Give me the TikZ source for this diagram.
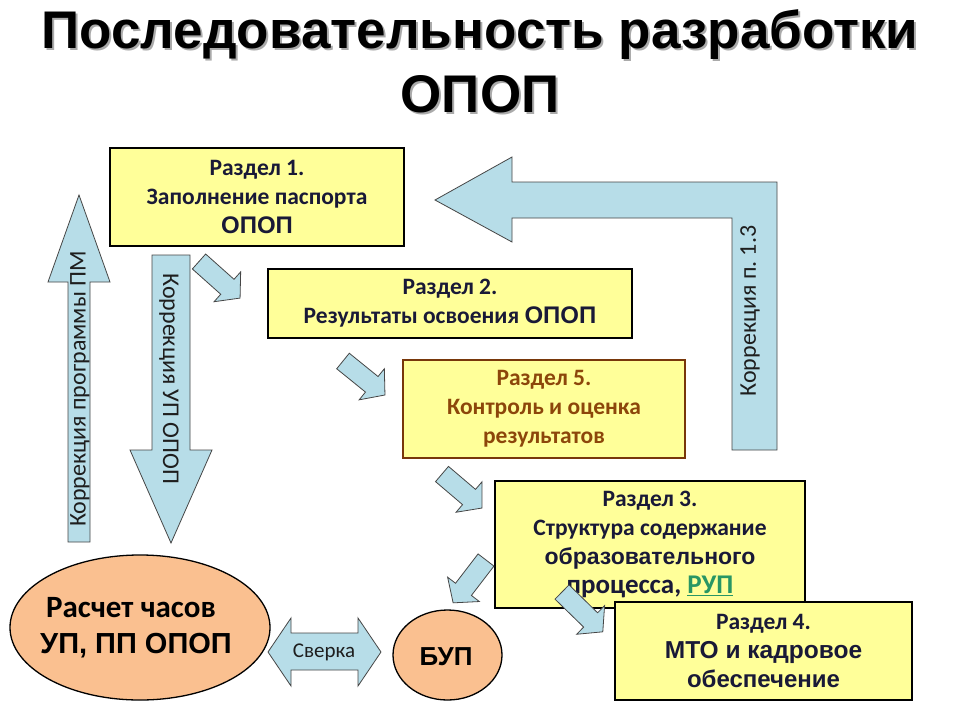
\documentclass[tikz,border=0pt]{standalone}
\usepackage{fontspec}
\setmainfont{Carlito}
\newfontfamily\arialf{Liberation Sans}
\usetikzlibrary{shapes.geometric}
\frenchspacing
\definecolor{boxfill}{RGB}{255,255,153}
\definecolor{arrfill}{RGB}{183,221,232}
\definecolor{arrline}{RGB}{70,70,70}
\definecolor{peach}{RGB}{250,192,144}
\definecolor{navy}{RGB}{25,25,55}
\definecolor{brownb}{RGB}{120,55,10}
\definecolor{browntxt}{RGB}{140,70,10}
\definecolor{rupgreen}{RGB}{40,150,100}
\definecolor{shadowgray}{RGB}{170,170,170}
\definecolor{rottxt}{RGB}{30,30,30}
\newcommand{\blockarr}[4]{%
  \begin{scope}[shift={#2}, rotate=#3, x=1pt, y=1pt]
    \draw[blk] (0,-10) -- ({#4-17},-10) -- ({#4-17},-20) -- (#4,0) -- ({#4-17},20) -- ({#4-17},10) -- (0,10) -- cycle;
    \coordinate (#1) at (#4,0);
  \end{scope}}
\begin{document}
\begin{tikzpicture}[x=1pt,y=-1pt,
  sect/.style={draw=black, line width=2.2pt, fill=boxfill, align=center, text=navy,
    font=\bfseries\fontsize{23.5}{29}\selectfont, inner sep=0pt},
  blk/.style={draw=arrline, line width=0.8pt, fill=arrfill, line join=miter},
  titlef/.style={font=\arialf\bfseries\fontsize{53}{60}\selectfont, inner sep=0pt, anchor=base},
  rot/.style={font=\fontsize{24}{28}\selectfont, text=rottxt, inner sep=0pt},
  oval/.style={ellipse, draw=black, line width=1.3pt, fill=peach, inner sep=0pt},
  ovaltxt/.style={inner sep=0pt, anchor=base, text=black}]
\fill[white] (0,0) rectangle (960,720);
\useasboundingbox (0,0) rectangle (960,720);

% title
\node[titlef, text=shadowgray] (t1s) at (482,50) {Последовательность разработки};
\node[titlef] (t1) at (480,48) {Последовательность разработки};
\node[titlef, text=shadowgray] (t2s) at (482,114) {ОПОП};
\node[titlef] (t2) at (480,112) {ОПОП};

% vertical arrows
\draw[blk] (79,195) -- (110,282) -- (90,282) -- (90,542) -- (68,542) -- (68,282) -- (48,282) -- cycle;
\node[rot, rotate=90] (tpm) at (80,389) {Коррекция программы ПМ};
\draw[blk] (152,255) -- (190,255) -- (190,450) -- (212,450) -- (171,543) -- (130,450) -- (152,450) -- cycle;
\node[rot, rotate=-90] (tup) at (169,379) {Коррекция УП ОПОП};

% bent arrow
\draw[blk] (435,200) -- (512,157) -- (512,182) -- (777,182) -- (777,450) -- (732,450) -- (732,218) -- (512,218) -- (512,242) -- cycle;
\node[rot, rotate=90] (tk13) at (750,311) {Коррекция п. 1.3};

% boxes
\node[sect, minimum width=294, minimum height=98] (s1) at (257,197)
  {Раздел 1.\\Заполнение паспорта\\{\arialf\fontsize{24}{29}\selectfont ОПОП}};
\node[sect, minimum width=364, minimum height=69] (s2) at (450,303.5)
  {Раздел 2.\\Результаты освоения {\arialf\fontsize{24}{29}\selectfont ОПОП}};
\node[sect, draw=brownb, text=browntxt, minimum width=282, minimum height=98] (s5) at (544,409)
  {Раздел 5.\\Контроль и оценка\\результатов};
\node[sect, minimum width=310, minimum height=127] (s3) at (650,544.5)
  {Раздел 3.\\Структура содержание\\{\arialf\fontsize{23}{28}\selectfont образовательного}\\{\fontsize{27}{28}\selectfont процесса, \textcolor{rupgreen}{\underline{РУП}}}};

% ovals
\node[oval, minimum width=260, minimum height=145] (calc) at (140,627.5) {};
\node[ovaltxt, font=\bfseries\fontsize{31}{36}\selectfont] (calct1) at (131,617) {Расчет часов};
\node[ovaltxt, font=\arialf\bfseries\fontsize{29}{36}\selectfont] (calct2) at (136,653) {УП, ПП ОПОП};
\node[oval, minimum width=109, minimum height=90] (bup) at (447.5,655) {};
\node[ovaltxt, font=\arialf\bfseries\fontsize{26}{30}\selectfont] (bupt) at (446,665) {БУП};

% double arrow
\draw[blk] (268,652) -- (291,618) -- (291,633) -- (358,633) -- (358,618) -- (381,652) -- (358,686) -- (358,670) -- (291,670) -- (291,686) -- cycle;
\node[font=\fontsize{21}{24}\selectfont, text=rottxt, inner sep=0pt] (sv) at (324,652) {Сверка};

% small arrows
\blockarr{aa}{(199,261.5)}{-41.7}{55}
\blockarr{ab}{(343,361)}{-39}{54}
\blockarr{ac}{(442,474)}{-40.4}{52.5}
\blockarr{ad}{(486,560)}{-127.5}{54}
\blockarr{ae}{(562,592)}{-44.3}{57}

\node[sect, minimum width=297, minimum height=98] (s4) at (763.5,651)
  {Раздел 4.\\{\arialf\fontsize{24.5}{30}\selectfont МТО и кадровое}\\{\arialf\fontsize{24}{30}\selectfont обеспечение}};
\end{tikzpicture}
\end{document}
